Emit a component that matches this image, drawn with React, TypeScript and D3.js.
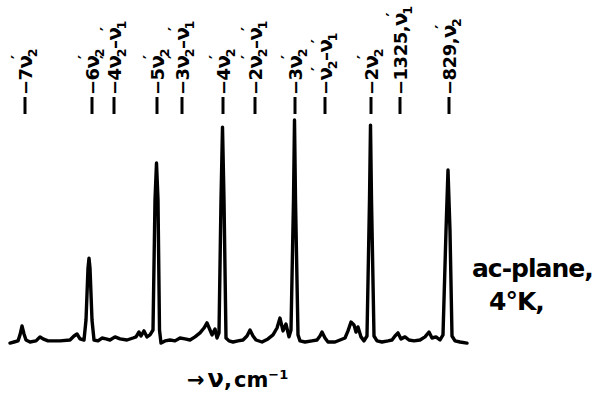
import React from "react";
import * as d3 from "d3";

// Spectrum trace: position (arbitrary frequency units, increasing to the right) and relative intensity
const tracePos = [10, 14, 18, 20, 22, 24, 26, 30, 36, 40, 43, 48, 60, 70, 74, 77, 80, 84, 86, 88, 89, 90, 92, 94, 98, 102, 106, 110, 115, 120, 127, 133, 136, 139, 141, 144, 147, 150, 153, 155, 156.5, 158, 159.5, 161, 165, 170, 175, 180, 185, 190, 195, 200, 204, 207, 210, 212, 215, 217, 219, 221, 222.5, 224, 226, 229, 233, 238, 243, 247, 250, 253, 256, 262, 268, 273, 277, 280, 283, 286, 289, 291, 293.5, 294.5, 295.5, 298, 300, 305, 312, 317, 320, 322, 325, 328, 335, 340, 345, 348, 351, 354, 356, 358, 361, 364, 367, 369.5, 370.5, 371.5, 374, 377, 382, 388, 392, 395, 398, 401, 405, 409, 414, 420, 425, 429, 432, 436, 440, 443, 446, 448, 450, 452, 455, 460, 467];
const traceInt = [-0.5, 0, 0.5, 3.2, 7.2, 3.6, 0.9, 0, 0.5, 2.3, 1.4, 0.5, 0.5, 0.9, 2.7, 3.6, 1.4, 0.9, 9.9, 33.3, 37.8, 33.3, 9.9, 0.9, 0.5, 1.8, 1.4, 0.9, 2.3, 1.4, 0.9, 1.8, 2.3, 4.5, 2.7, 5.0, 2.3, 3.2, 5.4, 64, 80.6, 64, 5.4, -0.5, 0.5, 0.9, 0.5, 1.8, 1.4, 0.9, 2.3, 4.1, 6.3, 8.6, 5.4, 3.2, 5.9, 1.8, 4.1, 64, 96.8, 64, 1.8, 0.5, 0, 0.5, 0.9, 2.7, 5.4, 2.7, 0.9, 0, 1.4, 3.2, 6.3, 10.8, 5.0, 8.1, 2.3, 5.4, 64, 100, 64, 3.2, 0.5, 0, 0.5, 0.9, 2.7, 4.5, 1.8, 0, 0, 0.9, 1.8, 5.0, 9.0, 7.7, 4.5, 6.8, 2.3, 0.5, 2.7, 64, 97.7, 64, 2.7, 0.5, 0, 0.5, 0.9, 2.7, 4.1, 1.4, 2.3, 0.9, 0.5, 0.9, 2.3, 4.5, 1.8, 2.3, 0.9, 3.2, 50, 77.5, 50, 2.7, 0.5, 0, -0.5];

// Band assignments
const bandPos = [25, 92, 114, 157, 182, 223, 255, 295, 325, 371, 400, 449];
const bandLabels = ["−7ν2'", "−6ν2'", "−4ν2'–ν1'", "−5ν2'", "−3ν2'–ν1'", "−4ν2'", "−2ν2'–ν1'", "−3ν2'", "−ν2'–ν1'", "−2ν2'", "−1325,ν1'", "−829,ν2'"];

const annotationLines = ["ac-plane,", "4°K,"];

const W = 593;
const H = 405;
const FONT = "'DejaVu Sans', sans-serif";

function renderLabel(s: string, F: number) {
  const parts: React.ReactNode[] = [];
  const re = /ν(\d)'/g;
  let last = 0;
  let offset = 0; // accumulated dy
  let m: RegExpExecArray | null;
  let k = 0;
  const pushText = (t: string) => {
    if (!t) return;
    parts.push(
      <tspan key={k++} dy={-offset}>
        {t}
      </tspan>
    );
    offset = 0;
  };
  while ((m = re.exec(s))) {
    pushText(s.slice(last, m.index));
    parts.push(
      <tspan key={k++} dy={-offset} fontSize={1.1 * F}>
        ν
      </tspan>
    );
    offset = 0;
    parts.push(
      <tspan key={k++} dy={-0.5 * F} dx={-0.2 * F} fontSize={0.85 * F}>
        ′
      </tspan>
    );
    parts.push(
      <tspan key={k++} dy={0.5 * F + 0.3 * F} dx={-0.1 * F} fontSize={0.7 * F}>
        {m[1]}
      </tspan>
    );
    offset = 0.3 * F;
    last = m.index + m[0].length;
  }
  pushText(s.slice(last));
  return parts;
}

export default function App() {
  const x = d3.scaleLinear().domain([0, 470]).range([0, 470]);
  const y = d3.scaleLinear().domain([0, 100]).range([342, 120]);
  const pts: [number, number][] = tracePos.map((p, i) => [p, traceInt[i]]);
  const line = d3
    .line<[number, number]>()
    .x((d) => x(d[0]))
    .y((d) => y(d[1]));
  const F = 18;
  return (
    <svg
      width={W}
      height={H}
      style={{ position: "absolute", left: 0, top: 0, background: "#fff" }}
      fontFamily={FONT}
    >
      <rect width={W} height={H} fill="#fff" />
      <path
        d={line(pts) || ""}
        fill="none"
        stroke="#000"
        strokeWidth={3.4}
        strokeLinejoin="round"
        strokeLinecap="round"
      />
      {bandPos.map((p, i) => (
        <g key={i}>
          <line x1={x(p)} x2={x(p)} y1={97} y2={114} stroke="#000" strokeWidth={3} />
          <text
            transform={`translate(${x(p) + 7},95) rotate(-90)`}
            fontSize={F}
            fontWeight="bold"
            letterSpacing={-0.5}
            fill="#000"
          >
            {renderLabel(bandLabels[i], F)}
          </text>
        </g>
      ))}
      <text x={472} y={277} fontSize={25} fill="#000" fontWeight="bold" letterSpacing={-1}>
        {annotationLines[0]}
      </text>
      <text x={489} y={310} fontSize={25} fill="#000" fontWeight="bold" letterSpacing={-1}>
        {annotationLines[1]}
      </text>
      <g>
        <text x={187} y={387} fontSize={21} fill="#000" fontWeight="bold">
          →<tspan dx={3} fontSize={24}>ν</tspan>,<tspan dx={2}>cm</tspan>
          <tspan dy={-8} fontSize={13}>
            −1
          </tspan>
        </text>
      </g>
    </svg>
  );
}
